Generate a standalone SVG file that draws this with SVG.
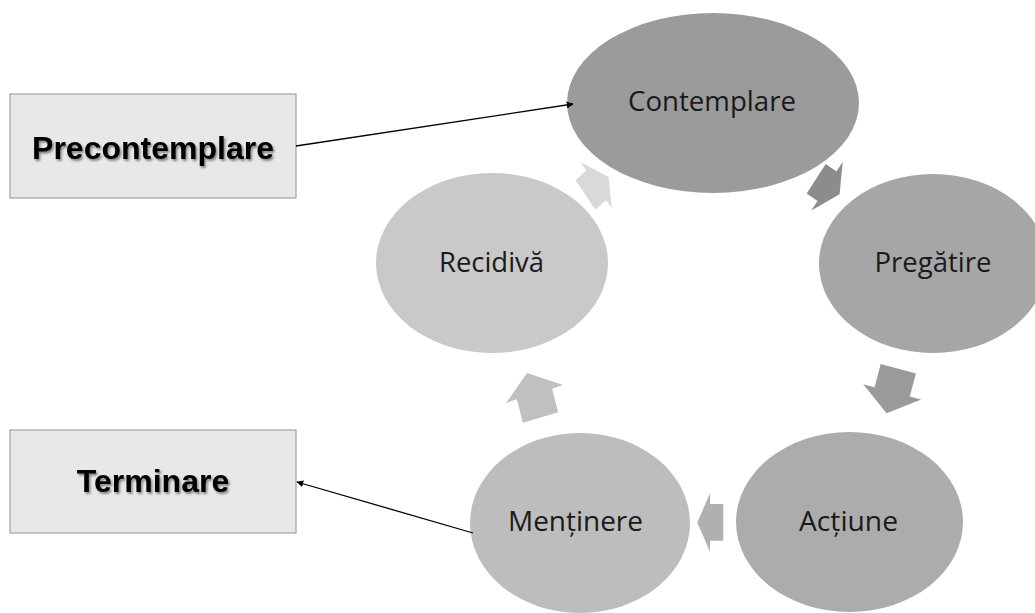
<svg xmlns="http://www.w3.org/2000/svg" width="1035" height="613" viewBox="0 0 1035 613">
  <style>
    .box { fill: #e8e8e8; stroke: #a3a3a3; stroke-width: 1.2; }
    .boxlabel { font-family: "Liberation Sans", Arial, sans-serif; font-weight: bold; font-size: 32px; fill: #000; text-anchor: middle; }
    .stage { font-family: "Open Sans", "Noto Sans", sans-serif; font-size: 27.5px; fill: #1a1a1a; text-anchor: middle; }
    .link { stroke: #000; stroke-width: 1.3; fill: none; }
  </style>
  <defs>
    <marker id="tip" viewBox="0 0 10 10" refX="9" refY="5" markerWidth="7" markerHeight="7" markerUnits="userSpaceOnUse" orient="auto">
      <path d="M0,0 L10,5 L0,10 z" fill="#000"/>
    </marker>
    <filter id="soft" x="-10%" y="-30%" width="120%" height="160%">
      <feDropShadow dx="1.5" dy="2" stdDeviation="1.2" flood-color="#000" flood-opacity="0.45"/>
    </filter>
  </defs>

  <!-- side boxes -->
  <g id="precontemplare">
    <rect class="box" x="10" y="94" width="286" height="104"/>
    <text class="boxlabel" x="153" y="159" filter="url(#soft)">Precontemplare</text>
  </g>
  <g id="terminare">
    <rect class="box" x="10" y="430" width="286" height="103"/>
    <text class="boxlabel" x="153" y="492" filter="url(#soft)">Terminare</text>
  </g>

  <!-- cycle stages -->
  <g id="contemplare">
    <ellipse cx="713" cy="103" rx="146" ry="90" fill="#9b9b9b"/>
    <text class="stage" x="712" y="111" textLength="168" lengthAdjust="spacingAndGlyphs">Contemplare</text>
  </g>
  <g id="pregatire">
    <ellipse cx="933" cy="263.5" rx="114" ry="89.5" fill="#a6a6a6"/>
    <text class="stage" x="933" y="272" textLength="117" lengthAdjust="spacingAndGlyphs">Pregătire</text>
  </g>
  <g id="actiune">
    <ellipse cx="849.5" cy="522" rx="113.5" ry="90" fill="#acacac"/>
    <text class="stage" x="848.5" y="531" textLength="99" lengthAdjust="spacingAndGlyphs">Acțiune</text>
  </g>
  <g id="mentinere">
    <ellipse cx="580" cy="523" rx="110" ry="90" fill="#bdbdbd"/>
    <text class="stage" x="575.5" y="531" textLength="135" lengthAdjust="spacingAndGlyphs">Menținere</text>
  </g>
  <g id="recidiva">
    <ellipse cx="492" cy="263" rx="116" ry="90" fill="#c9c9c9"/>
    <text class="stage" x="491.5" y="271.5" textLength="105" lengthAdjust="spacingAndGlyphs">Recidivă</text>
  </g>

  <!-- cycle arrows and links -->
  <g id="connectors">
    <polygon fill="#8c8c8c" points="825.7,164 836.5,171.5 842.7,161.8 839.6,194.3 811.3,210.6 817.5,200.9 806.7,193.4"/>
    <polygon fill="#9a9a9a" points="880.7,364 874.6,387.2 863.2,384.3 886.6,413.2 921.2,399.6 909.8,396.6 915.9,373.4"/>
    <polygon fill="#b0b0b0" points="723.3,504 710,504 710,493.3 697.3,522.5 710,551.7 710,540.7 723.3,540.7"/>
    <polygon fill="#c0c0c0" points="522.9,422.7 516.9,399.2 506,403 527,373 563,385 552.1,388.8 558.1,412.3"/>
    <polygon fill="#d9d9d9" points="575.6,180.3 586.3,170.6 580.7,162.3 608.6,176.9 611.7,208.3 606.1,200 595.4,209.7"/>
    <line class="link" x1="296" y1="146" x2="573" y2="104" marker-end="url(#tip)"/>
    <line class="link" x1="473" y1="533" x2="297" y2="482" marker-end="url(#tip)"/>
  </g>
</svg>
